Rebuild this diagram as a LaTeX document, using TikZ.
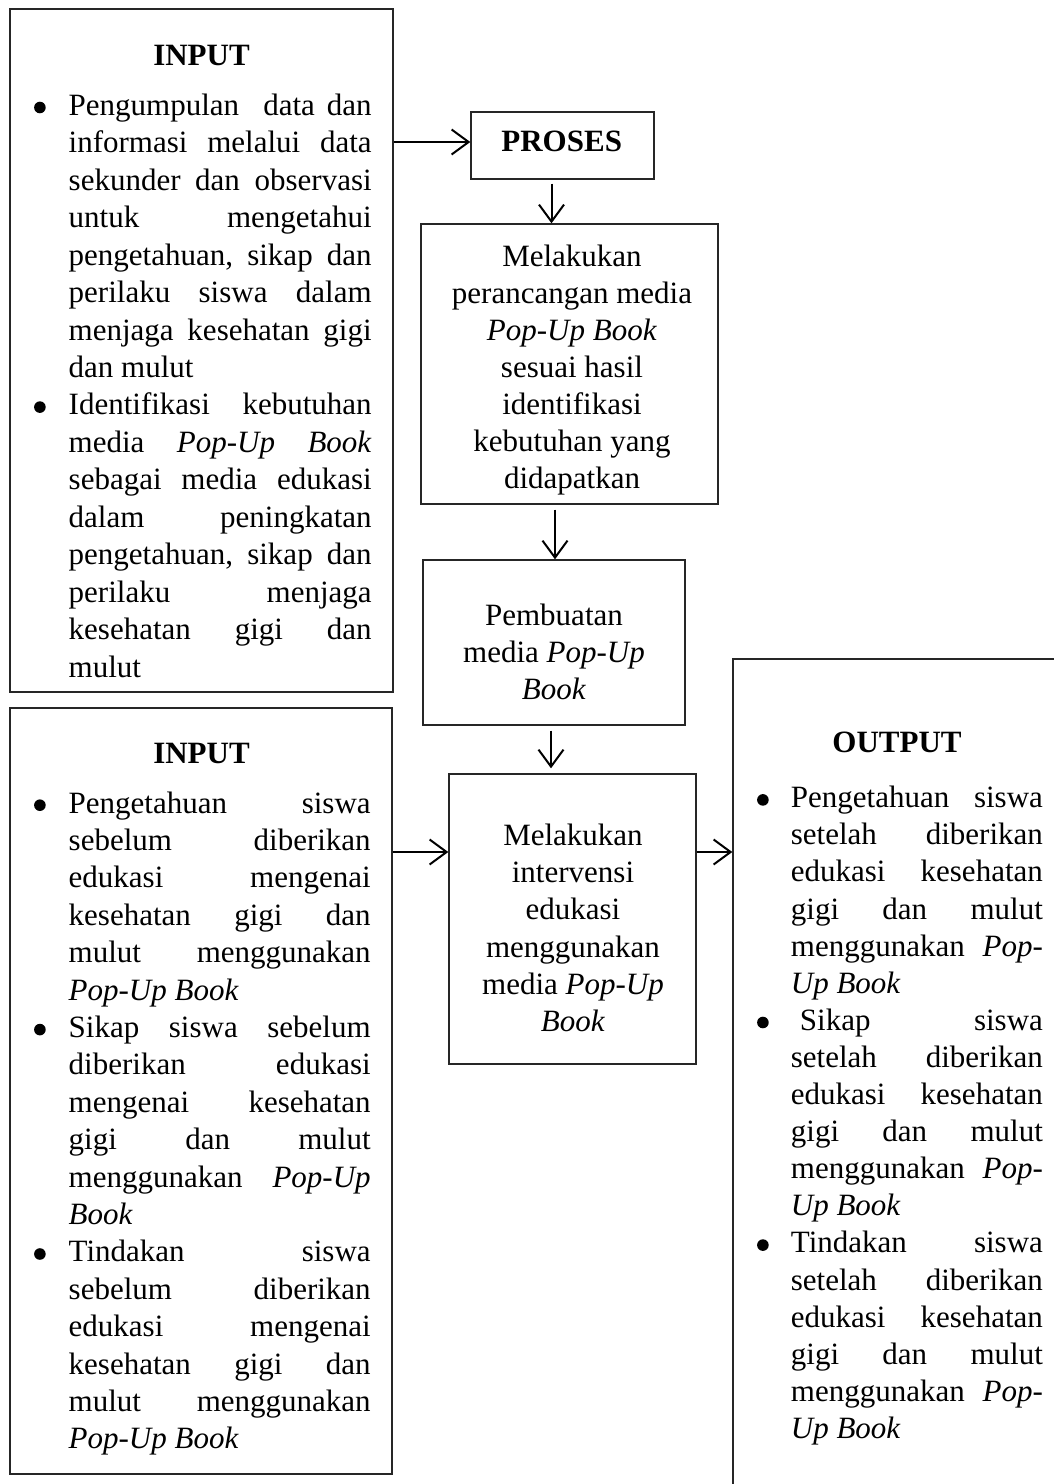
\documentclass[tikz,border=0pt]{standalone}
\usepackage{fontspec}
\setmainfont{Liberation Serif}
\usetikzlibrary{arrows.meta}
\newcommand\jl[1]{\hbox to\hsize{\spaceskip=.25em plus 1fil\relax #1}}
\newcommand\lastl[1]{\hbox to\hsize{#1\hfil}}
\newcommand\cl[1]{\hbox to\hsize{\hfil #1\hfil}}
\newlength\bsep
\setlength\bsep{23pt}
\newcommand\bul{\llap{\raisebox{2pt}{\tikz\fill (0pt,0pt) circle (5.8pt);}\hspace{\bsep}}}
\newcommand\colbox[3]{\vtop{\hsize=#1\relax\baselineskip=#2\relax\lineskiplimit=-100pt\lineskip=0pt\frenchspacing #3}}
\begin{document}
\begin{tikzpicture}[x=1pt,y=-1pt,
  every node/.style={font=\fontsize{31}{37}\selectfont},
  boxst/.style={draw=black!85, line width=1.4pt, inner sep=0pt},
  txt/.style={inner sep=0pt, anchor=base},
  txtw/.style={inner sep=0pt, anchor=base west},
  arr/.style={line width=2pt, -{Straight Barb[length=17pt,width=25pt]}}]
\useasboundingbox (0,0) rectangle (1054,1484);
\fill[white] (0,0) rectangle (1054,1484);
\clip (0,0) rectangle (1054,1484);
% boxes
\node[boxst, minimum width=383pt, minimum height=683pt] (in1) at (201.5,350.5) {};
\node[boxst, minimum width=382pt, minimum height=766pt] (in2) at (201,1091) {};
\node[boxst, minimum width=183pt, minimum height=67pt] (proses) at (562.5,145.5) {};
\node[boxst, minimum width=297pt, minimum height=280pt] (b2) at (569.5,364) {};
\node[boxst, minimum width=262pt, minimum height=165pt] (b3) at (554,642.5) {};
\node[boxst, minimum width=247pt, minimum height=290pt] (b4) at (572.5,919) {};
\node[boxst, minimum width=347pt, minimum height=851pt] (out) at (906.5,1084.5) {};
% texts
\node[txt] (tin1) at (201.5,65) {\textbf{INPUT}};
\node[txtw] (lin1) at (68.5,115.3) {\colbox{303pt}{37.45pt}{%
\jl{\bul Pengumpulan\space\space data dan}
\jl{informasi melalui data}
\jl{sekunder dan observasi}
\jl{untuk mengetahui}
\jl{pengetahuan, sikap dan}
\jl{perilaku siswa dalam}
\jl{menjaga kesehatan gigi}
\lastl{dan mulut}
\jl{\bul Identifikasi kebutuhan}
\jl{media \textit{Pop-Up Book}}
\jl{sebagai media edukasi}
\jl{dalam peningkatan}
\jl{pengetahuan, sikap dan}
\jl{perilaku menjaga}
\jl{kesehatan gigi dan}
\lastl{mulut}}};
\node[txt] (tin2) at (201.5,763) {\textbf{INPUT}};
\node[txtw] (lin2) at (68.5,813) {\colbox{302pt}{37.4pt}{%
\jl{\bul Pengetahuan siswa}
\jl{sebelum diberikan}
\jl{edukasi mengenai}
\jl{kesehatan gigi dan}
\jl{mulut menggunakan}
\lastl{\textit{Pop-Up Book}}
\jl{\bul Sikap siswa sebelum}
\jl{diberikan edukasi}
\jl{mengenai kesehatan}
\jl{gigi dan mulut}
\jl{menggunakan \textit{Pop-Up}}
\lastl{\textit{Book}}
\jl{\bul Tindakan siswa}
\jl{sebelum diberikan}
\jl{edukasi mengenai}
\jl{kesehatan gigi dan}
\jl{mulut menggunakan}
\lastl{\textit{Pop-Up Book}}}};
\node[txt] (tout) at (897,752.5) {\textbf{OUTPUT}};
\node[txtw] (lout) at (790.7,807.7) {\colbox{252pt}{37.1pt}{%
\bsep=22.2pt
\jl{\bul Pengetahuan siswa}
\jl{setelah diberikan}
\jl{edukasi kesehatan}
\jl{gigi dan mulut}
\jl{menggunakan \textit{Pop-}}
\lastl{\textit{Up Book}}
\jl{\bul\hspace{9pt}Sikap siswa}
\jl{setelah diberikan}
\jl{edukasi kesehatan}
\jl{gigi dan mulut}
\jl{menggunakan \textit{Pop-}}
\lastl{\textit{Up Book}}
\jl{\bul Tindakan siswa}
\jl{setelah diberikan}
\jl{edukasi kesehatan}
\jl{gigi dan mulut}
\jl{menggunakan \textit{Pop-}}
\lastl{\textit{Up Book}}}};
\node[txt] (tpro) at (561.7,151.7) {\textbf{PROSES}};
\node[txt] (lb2) at (572,266.7) {\colbox{290pt}{37pt}{%
\cl{Melakukan}
\cl{perancangan media}
\cl{\textit{Pop-Up Book}}
\cl{sesuai hasil}
\cl{identifikasi}
\cl{kebutuhan yang}
\cl{didapatkan}}};
\node[txt] (lb3) at (554,625) {\colbox{250pt}{37pt}{%
\cl{Pembuatan}
\cl{media \textit{Pop-Up}}
\cl{\textit{Book}}}};
\node[txt] (lb4) at (573,845.7) {\colbox{240pt}{37.1pt}{%
\cl{Melakukan}
\cl{intervensi}
\cl{edukasi}
\cl{menggunakan}
\cl{media \textit{Pop-Up}}
\cl{\textit{Book}}}};
% connectors
\draw[arr] ([yshift=3.5pt]proses.west -| in1.east) -- ([yshift=3.5pt]proses.west);
\draw[arr] ([xshift=-11pt,yshift=-4pt]proses.south) -- ([xshift=-11pt]proses.south |- b2.north);
\draw[arr] ([xshift=-14.5pt,yshift=-5pt]b2.south) -- ([xshift=-14.5pt]b2.south |- b3.north);
\draw[arr, shorten >=5pt] ([xshift=-3pt,yshift=-5pt]b3.south) -- ([xshift=-3pt]b3.south |- b4.north);
\draw[arr] ([yshift=67pt]b4.west -| in2.east) -- ([yshift=67pt]b4.west);
\draw[arr] ([yshift=67pt]b4.east) -- ([yshift=67pt]b4.east -| out.west);
\end{tikzpicture}
\end{document}
